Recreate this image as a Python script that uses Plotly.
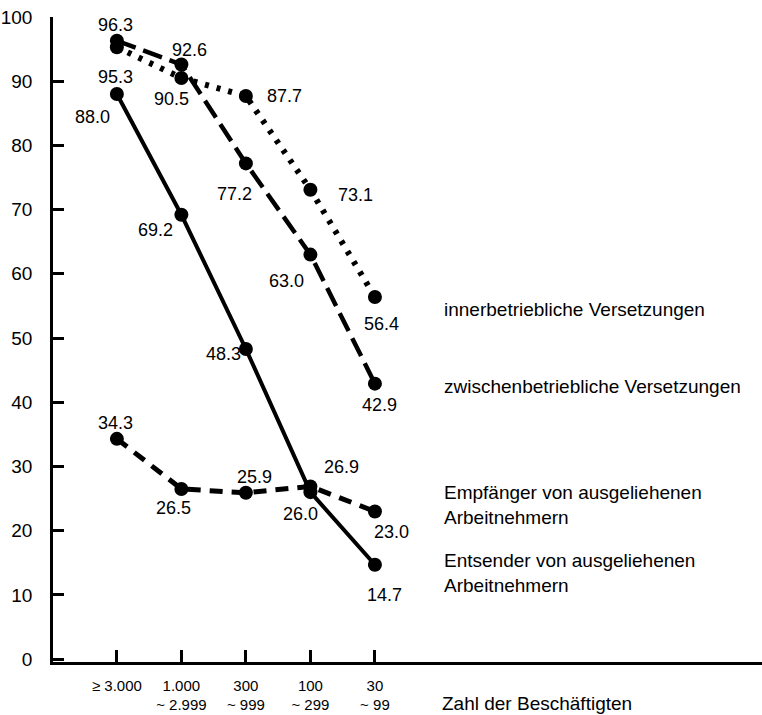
import plotly.graph_objects as go

# Betriebsgrößenklassen (Zahl der Beschäftigten)
categories = ["≥ 3.000", "1.000<br>~ 2.999", "300<br>~ 999", "100<br>~ 299", "30<br>~ 99"]

inner_vals = [95.3, 90.5, 87.7, 73.1, 56.4]       # innerbetriebliche Versetzungen
zwischen_vals = [96.3, 92.6, 77.2, 63.0, 42.9]    # zwischenbetriebliche Versetzungen
empf_vals = [34.3, 26.5, 25.9, 26.9, 23.0]        # Empfänger von ausgeliehenen Arbeitnehmern
ents_vals = [88.0, 69.2, 48.3, 26.0, 14.7]        # Entsender von ausgeliehenen Arbeitnehmern

y_ticks = [0, 10, 20, 30, 40, 50, 60, 70, 80, 90, 100]

FONT = "Liberation Sans, Arial, sans-serif"
xs = list(range(len(categories)))

# (Linienstil, Wertelabel-Versatz in px: dx, dy nach unten)
series = [
    (inner_vals, "4px,8px", 6, [(-1, 30), (-10, 21), (39, 0), (45, 5), (7, 27)]),
    (zwischen_vals, "20px,8px", 4.5, [(-1, -16), (8, -15), (-11, 31), (-24, 26), (5, 21)]),
    (empf_vals, "13px,9px", 5, [(-1, -16), (-8, 19), (9, -16), (31, -19), (17, 21)]),
    (ents_vals, "solid", 4, [(-24, 23), (-26, 15), (-22, 5), (-10, 22), (10, 30)]),
]

fig = go.Figure()
annotations = []
for vals, dash, width, offs in series:
    fig.add_trace(go.Scatter(
        x=xs, y=vals, mode="lines+markers",
        line=dict(color="black", width=width, dash=dash),
        marker=dict(color="black", size=14),
        showlegend=False, hoverinfo="y",
    ))
    for i, v in enumerate(vals):
        dx, dy = offs[i]
        annotations.append(dict(
            x=xs[i], y=v, text=f"{v:.1f}", showarrow=False,
            xshift=dx, yshift=-dy, font=dict(size=18, color="black", family=FONT),
        ))

# Beschriftungen der Linien rechts
side_labels = [
    ("innerbetriebliche Versetzungen", 308),
    ("zwischenbetriebliche Versetzungen", 386),
    ("Empfänger von ausgeliehenen<br>Arbeitnehmern", 505),
    ("Entsender von ausgeliehenen<br>Arbeitnehmern", 573),
]
for txt, ypix in side_labels:
    annotations.append(dict(
        xref="paper", yref="paper", x=(442 - 53) / 709, y=(662 - ypix) / 647,
        xanchor="left", yanchor="middle", align="left", text=txt, showarrow=False,
        font=dict(size=19, color="black", family=FONT),
    ))

annotations.append(dict(
    xref="paper", yref="paper", x=(440 - 53) / 709, y=(662 - 704) / 647,
    xanchor="left", yanchor="middle", text="Zahl der Beschäftigten", showarrow=False,
    font=dict(size=19, color="black", family=FONT),
))

fig.update_layout(
    width=762, height=715,
    margin=dict(l=53, r=0, t=17, b=53),
    plot_bgcolor="white", paper_bgcolor="white",
    font=dict(family=FONT, color="black"),
    annotations=annotations,
    xaxis=dict(
        range=[-0.99, 10.0], tickmode="array", tickvals=xs, ticktext=categories,
        showgrid=False, zeroline=False, showline=True, linecolor="black", linewidth=2.5,
        ticks="inside", ticklen=12, tickwidth=2.5, tickcolor="black", automargin=False,
        tickfont=dict(size=15, color="black", family=FONT), ticklabelstandoff=8,
    ),
    yaxis=dict(
        range=[-0.45, 100], tickmode="array", tickvals=y_ticks,
        showgrid=False, zeroline=False, showline=True, linecolor="black", linewidth=2.5,
        ticks="inside", ticklen=11, tickwidth=2.5, tickcolor="black", automargin=False,
        tickfont=dict(size=19, color="black", family=FONT), ticklabelstandoff=14,
    ),
)

# Seitenrand des Browsers entfernen, damit die Grafik bei (0, 0) beginnt
fig.write_html("out.html", config={"displayModeBar": False},
               post_script="document.body.style.margin='0';")
